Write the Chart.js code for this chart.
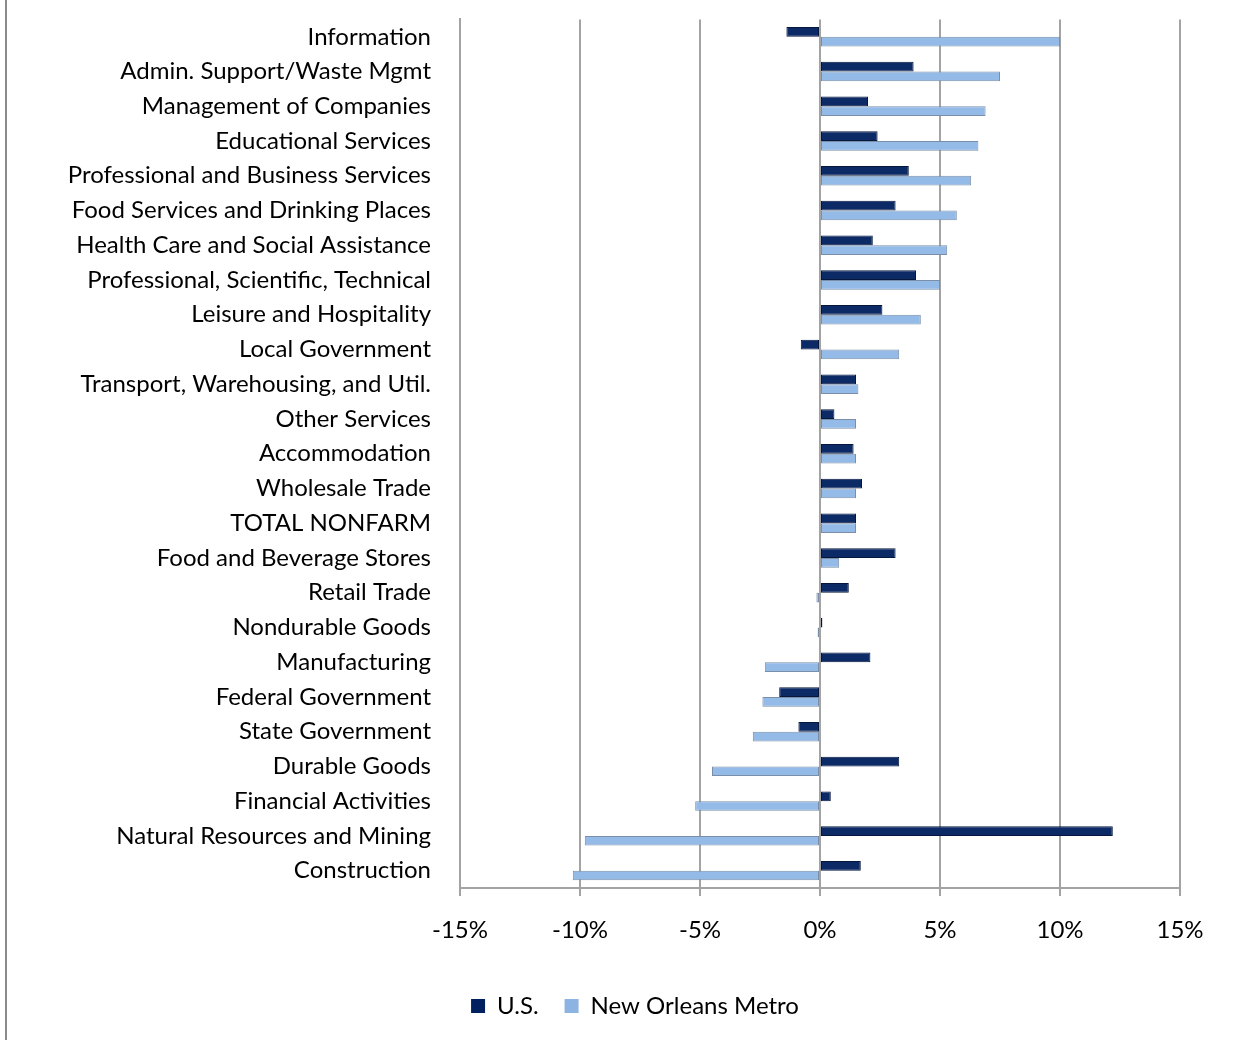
<!DOCTYPE html>
<html>
<head>
<meta charset="utf-8">
<script src="https://cdn.jsdelivr.net/npm/chart.js@4"></script>
<style>
  html, body { margin: 0; padding: 0; background: #fff; }
  #wrap { position: relative; width: 1255px; height: 1040px; }
  #edge { position: absolute; left: 5px; top: 0; width: 2px; height: 1040px; background: #8a8a8a; }
  canvas { position: absolute; left: 0; top: 0; }
</style>
</head>
<body>
<div id="wrap">
  <canvas id="chart" width="1255" height="1040"></canvas>
  <div id="edge"></div>
</div>
<script>
// Employment change by industry, U.S. vs New Orleans Metro (percent)
const industries = [
  'Information',
  'Admin. Support/Waste Mgmt',
  'Management of Companies',
  'Educational Services',
  'Professional and Business Services',
  'Food Services and Drinking Places',
  'Health Care and Social Assistance',
  'Professional, Scientific, Technical',
  'Leisure and Hospitality',
  'Local Government',
  'Transport, Warehousing, and Util.',
  'Other Services',
  'Accommodation',
  'Wholesale Trade',
  'TOTAL NONFARM',
  'Food and Beverage Stores',
  'Retail Trade',
  'Nondurable Goods',
  'Manufacturing',
  'Federal Government',
  'State Government',
  'Durable Goods',
  'Financial Activities',
  'Natural Resources and Mining',
  'Construction'
];

const usChange = [
  -1.4, 3.9, 2.0, 2.4, 3.7, 3.15, 2.2, 4.0, 2.6, -0.8,
  1.5, 0.6, 1.4, 1.75, 1.5, 3.15, 1.2, 0.1, 2.1, -1.7,
  -0.9, 3.3, 0.45, 12.2, 1.7
];

const noMetroChange = [
  10.0, 7.5, 6.9, 6.6, 6.3, 5.7, 5.3, 5.0, 4.2, 3.3,
  1.6, 1.5, 1.5, 1.5, 1.5, 0.8, -0.15, -0.1, -2.3, -2.4,
  -2.8, -4.5, -5.2, -9.8, -10.3
];

const labelFont = { family: 'Lato, "Open Sans", sans-serif', size: 24 };
const gridGray = '#a3a3a3';

new Chart(document.getElementById('chart').getContext('2d'), {
  type: 'bar',
  data: {
    labels: industries,
    datasets: [
      {
        label: 'U.S.',
        data: usChange,
        backgroundColor: '#0c2a66',
        borderColor: '#06173d',
        borderWidth: 1,
        borderSkipped: false,
        categoryPercentage: 0.56,
        barPercentage: 1.0
      },
      {
        label: 'New Orleans Metro',
        data: noMetroChange,
        backgroundColor: '#94bbe8',
        borderColor: '#7a8ea8',
        borderWidth: 1,
        borderSkipped: false,
        categoryPercentage: 0.56,
        barPercentage: 1.0
      }
    ]
  },
  options: {
    indexAxis: 'y',
    responsive: false,
    animation: false,
    layout: { padding: { top: 0, right: 0, bottom: 12, left: 15 } },
    plugins: {
      tooltip: { enabled: false },
      legend: {
        position: 'bottom',
        labels: {
          color: '#000',
          font: labelFont,
          boxWidth: 14,
          boxHeight: 14,
          padding: 26,
          // plain filled squares, no outline
          generateLabels: (chart) =>
            Chart.defaults.plugins.legend.labels.generateLabels(chart).map((item, i) => ({
              ...item,
              fillStyle: i === 0 ? '#002060' : '#8db3e2',
              lineWidth: 0
            }))
        }
      }
    },
    scales: {
      x: {
        min: -15,
        max: 15,
        ticks: {
          stepSize: 5,
          color: '#000',
          font: labelFont,
          padding: 20,
          callback: (v) => v + '%'
        },
        grid: { color: gridGray, lineWidth: 2, tickLength: 8, drawTicks: true },
        border: { display: true, color: gridGray, width: 2 },
        afterFit: (scale) => { scale.height = 80; }
      },
      y: {
        ticks: {
          color: '#000',
          font: labelFont,
          padding: 5,
          autoSkip: false
        },
        // invisible tick marks keep the labels clear of the wall
        grid: {
          display: true,
          color: 'rgba(0,0,0,0)',
          drawOnChartArea: false,
          drawTicks: true,
          tickLength: 24
        },
        border: { display: true, color: gridGray, width: 2 },
        afterFit: (scale) => { scale.width = 445; }
      },
      // empty right-hand margin so the plot stops at the 15% line
      margin: {
        type: 'linear',
        axis: 'y',
        position: 'right',
        display: true,
        ticks: { display: false },
        grid: { display: false, drawTicks: false },
        border: { display: false },
        afterFit: (scale) => { scale.width = 75; }
      }
    }
  }
});
</script>
</body>
</html>
